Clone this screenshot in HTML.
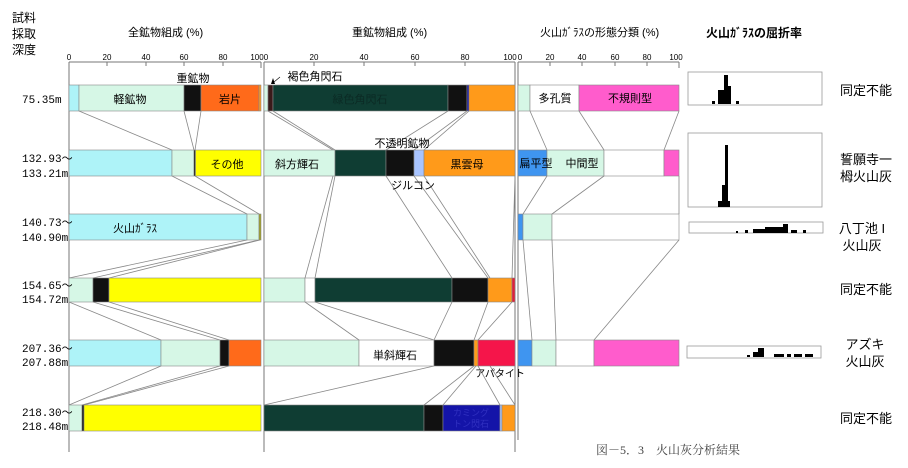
<!DOCTYPE html>
<html><head><meta charset="utf-8"><style>
body{margin:0;background:#fff}
svg{display:block;font-family:"Liberation Sans","Noto Sans CJK JP",sans-serif}
</style></head><body>
<svg width="908" height="468" viewBox="0 0 908 468" xmlns="http://www.w3.org/2000/svg">
<g font-size="12" fill="#000">
<text x="12" y="22">試料</text><text x="12" y="38">採取</text><text x="12" y="54">深度</text>
<text x="128" y="36" font-size="11">全鉱物組成 (%)</text>
<text x="352" y="36" font-size="11">重鉱物組成 (%)</text>
<text x="540" y="36" font-size="11">火山ｶﾞﾗｽの形態分類 (%)</text>
<text x="706" y="37" font-size="12" font-weight="bold">火山ｶﾞﾗｽの屈折率</text>
</g>
<!-- axes -->
<g stroke="#777" stroke-width="1" fill="none">
<line x1="69" y1="62" x2="261" y2="62"/><line x1="264" y1="62" x2="515" y2="62"/><line x1="518" y1="62" x2="679" y2="62"/>
<line x1="69" y1="62" x2="69" y2="452"/><line x1="264" y1="62" x2="264" y2="452"/><line x1="518" y1="62" x2="518" y2="440"/>
<line x1="261" y1="62" x2="261" y2="68"/><line x1="515" y1="62" x2="515" y2="452"/><line x1="679" y1="62" x2="679" y2="68"/>
<line x1="107" y1="62" x2="107" y2="66"/><line x1="146" y1="62" x2="146" y2="66"/><line x1="184" y1="62" x2="184" y2="66"/><line x1="223" y1="62" x2="223" y2="66"/>
<line x1="314" y1="62" x2="314" y2="66"/><line x1="364" y1="62" x2="364" y2="66"/><line x1="415" y1="62" x2="415" y2="66"/><line x1="465" y1="62" x2="465" y2="66"/>
<line x1="550" y1="62" x2="550" y2="66"/><line x1="582" y1="62" x2="582" y2="66"/><line x1="615" y1="62" x2="615" y2="66"/><line x1="647" y1="62" x2="647" y2="66"/>
</g>
<g font-size="8" fill="#000" text-anchor="middle">
<text x="69" y="60">0</text><text x="107" y="60">20</text><text x="146" y="60">40</text><text x="184" y="60">60</text><text x="223" y="60">80</text><text x="257" y="60">100</text>
<text x="266" y="60">0</text><text x="314" y="60">20</text><text x="364" y="60">40</text><text x="415" y="60">60</text><text x="465" y="60">80</text><text x="510" y="60">100</text>
<text x="520" y="60">0</text><text x="550" y="60">20</text><text x="582" y="60">40</text><text x="615" y="60">60</text><text x="647" y="60">80</text><text x="676" y="60">100</text>
</g>
<!-- connectors -->
<g stroke="#888" stroke-width="0.8" fill="none">
<line x1="79" y1="111" x2="172" y2="150"/><line x1="184" y1="111" x2="194" y2="150"/><line x1="201" y1="111" x2="195" y2="150"/>
<line x1="172" y1="176" x2="247" y2="214"/><line x1="195" y1="176" x2="259" y2="214"/>
<line x1="247" y1="240" x2="69" y2="278"/><line x1="259" y1="240" x2="93" y2="278"/><line x1="260" y1="240" x2="109" y2="278"/>
<line x1="69" y1="302" x2="161" y2="340"/><line x1="93" y1="302" x2="220" y2="340"/><line x1="109" y1="302" x2="229" y2="340"/>
<line x1="161" y1="366" x2="69" y2="405"/><line x1="220" y1="366" x2="82" y2="405"/><line x1="229" y1="366" x2="84" y2="405"/>
<line x1="268" y1="111" x2="333" y2="150"/><line x1="273" y1="111" x2="335" y2="150"/><line x1="448" y1="111" x2="386" y2="150"/><line x1="467" y1="111" x2="414" y2="150"/><line x1="469" y1="111" x2="424" y2="150"/>
<line x1="333" y1="176" x2="305" y2="278"/><line x1="335" y1="176" x2="315" y2="278"/><line x1="386" y1="176" x2="452" y2="278"/><line x1="414" y1="176" x2="488" y2="278"/><line x1="424" y1="176" x2="490" y2="278"/><line x1="515" y1="176" x2="512" y2="278"/>
<line x1="305" y1="302" x2="359" y2="340"/><line x1="315" y1="302" x2="434" y2="340"/><line x1="452" y1="302" x2="434" y2="340"/><line x1="488" y1="302" x2="474" y2="340"/><line x1="512" y1="302" x2="478" y2="340"/>
<line x1="434" y1="366" x2="264" y2="405"/><line x1="474" y1="366" x2="424" y2="405"/><line x1="476" y1="366" x2="443" y2="405"/><line x1="478" y1="366" x2="500" y2="405"/><line x1="490" y1="366" x2="515" y2="405"/>
<line x1="530" y1="111" x2="547" y2="150"/><line x1="579" y1="111" x2="604" y2="150"/><line x1="679" y1="111" x2="664" y2="150"/>
<line x1="547" y1="176" x2="523" y2="214"/><line x1="604" y1="176" x2="552" y2="214"/><line x1="679" y1="176" x2="679" y2="214"/>
<line x1="523" y1="240" x2="532" y2="340"/><line x1="552" y1="240" x2="556" y2="340"/><line x1="679" y1="240" x2="594" y2="340"/>
</g>
<!-- bars -->
<g stroke="#888" stroke-width="0.6">
<!-- row1 -->
<rect x="69" y="85" width="10" height="26" fill="#aef3f8"/><rect x="79" y="85" width="105" height="26" fill="#d6f7e6"/><rect x="184" y="85" width="17" height="26" fill="#111"/><rect x="201" y="85" width="58" height="26" fill="#ff6a1a"/><rect x="259" y="85" width="2" height="26" fill="#ff9a1a"/>
<rect x="264" y="85" width="4" height="26" fill="#d6f7e6"/><rect x="268" y="85" width="5" height="26" fill="#3a1a1a"/><rect x="273" y="85" width="175" height="26" fill="#0f3d33"/><rect x="448" y="85" width="19" height="26" fill="#111"/><rect x="467" y="85" width="2" height="26" fill="#1010a0"/><rect x="469" y="85" width="46" height="26" fill="#ff9a1a"/>
<rect x="518" y="85" width="12" height="26" fill="#d6f7e6"/><rect x="530" y="85" width="49" height="26" fill="#fff"/><rect x="579" y="85" width="100" height="26" fill="#ff5ccc"/>
<!-- row2 -->
<rect x="69" y="150" width="103" height="26" fill="#aef3f8"/><rect x="172" y="150" width="22" height="26" fill="#d6f7e6"/><rect x="194" y="150" width="1.5" height="26" fill="#111"/><rect x="195.5" y="150" width="65.5" height="26" fill="#ffff00"/>
<rect x="264" y="150" width="71" height="26" fill="#d6f7e6"/><rect x="335" y="150" width="51" height="26" fill="#0f3d33"/><rect x="386" y="150" width="28" height="26" fill="#111"/><rect x="414" y="150" width="10" height="26" fill="#a8c4ff"/><rect x="424" y="150" width="91" height="26" fill="#ff9a1a"/>
<rect x="518" y="150" width="29" height="26" fill="#3f95f0"/><rect x="547" y="150" width="57" height="26" fill="#d6f7e6"/><rect x="604" y="150" width="60" height="26" fill="#fff"/><rect x="664" y="150" width="15" height="26" fill="#ff5ccc"/>
<!-- row3 -->
<rect x="69" y="214" width="178" height="26" fill="#aef3f8"/><rect x="247" y="214" width="12" height="26" fill="#d6f7e6"/><rect x="259" y="214" width="2" height="26" fill="#a0a020"/>
<rect x="518" y="214" width="5" height="26" fill="#3f95f0"/><rect x="523" y="214" width="29" height="26" fill="#d6f7e6"/><rect x="552" y="214" width="127" height="26" fill="#fff"/>
<!-- row4 -->
<rect x="69" y="278" width="24" height="24" fill="#d6f7e6"/><rect x="93" y="278" width="16" height="24" fill="#111"/><rect x="109" y="278" width="152" height="24" fill="#ffff00"/>
<rect x="264" y="278" width="41" height="24" fill="#d6f7e6"/><rect x="305" y="278" width="10" height="24" fill="#fff"/><rect x="315" y="278" width="137" height="24" fill="#0f3d33"/><rect x="452" y="278" width="36" height="24" fill="#111"/><rect x="488" y="278" width="24" height="24" fill="#ff9a1a"/><rect x="512" y="278" width="3" height="24" fill="#e0203a"/>
<!-- row5 -->
<rect x="69" y="340" width="92" height="26" fill="#aef3f8"/><rect x="161" y="340" width="59" height="26" fill="#d6f7e6"/><rect x="220" y="340" width="9" height="26" fill="#111"/><rect x="229" y="340" width="32" height="26" fill="#ff6a1a"/>
<rect x="264" y="340" width="95" height="26" fill="#d6f7e6"/><rect x="359" y="340" width="75" height="26" fill="#fff"/><rect x="434" y="340" width="40" height="26" fill="#111"/><rect x="474" y="340" width="4" height="26" fill="#ff9a1a"/><rect x="478" y="340" width="37" height="26" fill="#f5154a"/>
<rect x="518" y="340" width="14" height="26" fill="#3f95f0"/><rect x="532" y="340" width="24" height="26" fill="#d6f7e6"/><rect x="556" y="340" width="38" height="26" fill="#fff"/><rect x="594" y="340" width="85" height="26" fill="#ff5ccc"/>
<!-- row6 -->
<rect x="69" y="405" width="13" height="26" fill="#d6f7e6"/><rect x="82" y="405" width="2" height="26" fill="#111"/><rect x="84" y="405" width="177" height="26" fill="#ffff00"/>
<rect x="264" y="405" width="160" height="26" fill="#0f3d33"/><rect x="424" y="405" width="19" height="26" fill="#111"/><rect x="443" y="405" width="57" height="26" fill="#1414a8"/><rect x="500" y="405" width="2" height="26" fill="#a8c4ff"/><rect x="502" y="405" width="13" height="26" fill="#ff9a1a"/>
</g>
<!-- bar labels -->
<g font-size="11" fill="#000" text-anchor="middle">
<text x="130" y="103">軽鉱物</text><text x="230" y="103">岩片</text><text x="193" y="82">重鉱物</text>
<text x="360" y="103" fill="#0b2a24">緑色角閃石</text><text x="315" y="80">褐色角閃石</text>
<text x="555" y="102">多孔質</text><text x="630" y="102">不規則型</text>
<text x="227" y="168">その他</text><text x="297" y="168">斜方輝石</text><text x="402" y="147">不透明鉱物</text><text x="413" y="189">ジルコン</text><text x="467" y="168">黒雲母</text>
<text x="536" y="167">扁平型</text><text x="582" y="167">中間型</text>
<text x="135" y="232">火山ｶﾞﾗｽ</text>
<text x="395" y="359">単斜輝石</text><text x="500" y="377" font-size="10">アパタイト</text>
<text x="471" y="416" font-size="9" fill="#3030c0">カミング</text><text x="471" y="427" font-size="9" fill="#3030c0">トン閃石</text>
</g>
<path d="M271 84 L273 78 L275 84Z" fill="#000"/><line x1="274" y1="82" x2="280" y2="77" stroke="#000" stroke-width="0.6"/>
<!-- depth labels -->
<g font-family="Liberation Mono, monospace" font-size="11" fill="#000">
<text x="22" y="103">75.35m</text>
<text x="22" y="162">132.93～</text><text x="22" y="177">133.21m</text>
<text x="22" y="226">140.73～</text><text x="22" y="241">140.90m</text>
<text x="22" y="289">154.65～</text><text x="22" y="303">154.72m</text>
<text x="22" y="352">207.36～</text><text x="22" y="366">207.88m</text>
<text x="22" y="416">218.30～</text><text x="22" y="430">218.48m</text>
</g>
<!-- histograms -->
<g stroke="#999" stroke-width="0.8" fill="#fff">
<rect x="688" y="72" width="134" height="33"/><rect x="688" y="133" width="134" height="74"/><rect x="689" y="222" width="134" height="11"/><rect x="687" y="346" width="134" height="12"/>
</g>
<g fill="#000">
<rect x="712" y="101" width="3" height="3"/><rect x="718" y="90" width="6" height="14"/><rect x="724" y="75" width="4" height="29"/><rect x="728" y="86" width="3" height="18"/><rect x="736" y="101" width="3" height="3"/>
<rect x="718" y="201" width="12" height="6"/><rect x="722" y="185" width="6" height="20"/><rect x="725" y="145" width="3" height="60"/>
<rect x="736" y="231" width="2" height="2"/><rect x="745" y="230" width="3" height="3"/><rect x="753" y="229" width="12" height="4"/><rect x="765" y="227" width="18" height="6"/><rect x="783" y="224" width="5" height="9"/><rect x="791" y="230" width="6" height="3"/><rect x="803" y="230" width="3" height="3"/>
<rect x="747" y="355" width="3" height="2"/><rect x="753" y="352" width="5" height="5"/><rect x="758" y="348" width="6" height="9"/><rect x="774" y="354" width="10" height="3"/><rect x="787" y="354" width="4" height="3"/><rect x="794" y="354" width="8" height="3"/><rect x="805" y="354" width="8" height="3"/>
</g>
<g font-size="13" fill="#000" text-anchor="middle">
<text x="866" y="95">同定不能</text>
<text x="866" y="164">誓願寺一</text><text x="866" y="181">栂火山灰</text>
<text x="862" y="233">八丁池 I</text><text x="862" y="250">火山灰</text>
<text x="866" y="294">同定不能</text>
<text x="865" y="349">アズキ</text><text x="865" y="366">火山灰</text>
<text x="866" y="423">同定不能</text>
</g>
<text x="596" y="454" font-size="12" fill="#444" font-family="Liberation Serif, 'Noto Serif CJK SC', serif">図－5．3　火山灰分析結果</text>
</svg>
</body></html>
